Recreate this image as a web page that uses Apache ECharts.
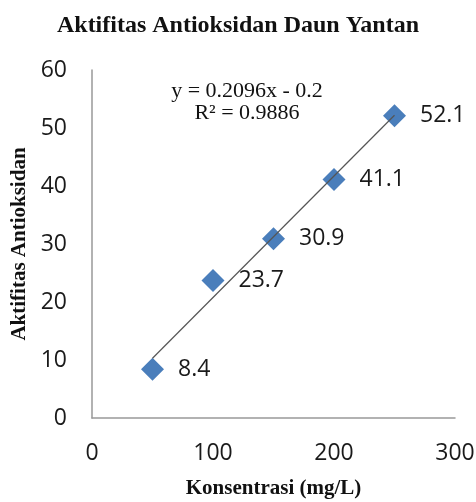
<!DOCTYPE html>
<html>
<head>
<meta charset="utf-8">
<script src="https://cdn.jsdelivr.net/npm/echarts@6/dist/echarts.min.js"></script>
<style>
  html, body { margin: 0; padding: 0; background: #fff; }
  #chart { width: 476px; height: 502px; }
</style>
</head>
<body>
<div id="chart"></div>
<script>
// konsentrasi (mg/L) dan aktifitas antioksidan
var konsentrasi = [50, 100, 150, 200, 250]
var aktifitas = [8.4, 23.7, 30.9, 41.1, 52.1]
// trendline ends
var trendX = [50, 250]
var trendY = [10.3, 52.2]
var equationText = ['y = 0.2096x - 0.2', 'R² = 0.9886']

var points = konsentrasi.map(function (x, i) { return [x, aktifitas[i]] })
var trend = trendX.map(function (x, i) { return [x, trendY[i]] })

var serif = '"Liberation Serif", "Times New Roman", serif'
var sans = '"Open Sans", sans-serif'

var myChart = echarts.init(document.getElementById('chart'))
var option = {
  backgroundColor: '#fff',
  animation: false,
  title: {
    text: 'Aktifitas Antioksidan Daun Yantan',
    left: 'center',
    top: 9,
    textStyle: { fontFamily: serif, fontWeight: 'bold', fontSize: 24, color: '#111' }
  },
  grid: { left: 92, right: 21, top: 70, bottom: 84, containLabel: false, outerBoundsMode: 'none' },
  xAxis: {
    type: 'value',
    min: 0, max: 300, interval: 100,
    name: 'Konsentrasi (mg/L)',
    nameLocation: 'middle',
    nameGap: 60,
    nameTextStyle: { fontFamily: serif, fontWeight: 'bold', fontSize: 21, color: '#111' },
    axisLine: { lineStyle: { color: '#999', width: 1.5 } },
    axisTick: { show: false },
    splitLine: { show: false },
    axisLabel: { fontFamily: sans, fontSize: 23, color: '#1a1a1a', margin: 24 }
  },
  yAxis: {
    type: 'value',
    min: 0, max: 60, interval: 10,
    name: 'Aktifitas Antioksidan',
    nameLocation: 'middle',
    nameRotate: 90,
    nameGap: 55,
    nameTextStyle: { fontFamily: serif, fontWeight: 'bold', fontSize: 21, color: '#111' },
    axisLine: { show: true, lineStyle: { color: '#999', width: 1.5 } },
    axisTick: { show: false },
    splitLine: { show: false },
    axisLabel: { fontFamily: sans, fontSize: 23, color: '#1a1a1a', margin: 25 }
  },
  graphic: equationText.map(function (t, i) {
    return {
      type: 'text',
      x: 247,
      y: 91 + i * 22,
      style: {
        text: t,
        font: '22px ' + serif,
        fill: '#111',
        align: 'center',
        verticalAlign: 'middle'
      }
    }
  }),
  series: [{
    type: 'scatter',
    data: points,
    symbol: 'diamond',
    symbolSize: 23,
    itemStyle: { color: '#4A7EBB', opacity: 1 },
    label: {
      show: true,
      position: 'right',
      distance: 14,
      fontFamily: sans,
      fontSize: 23,
      color: '#1a1a1a',
      formatter: function (p) { return p.value[1] }
    },
    z: 2
  }, {
    type: 'line',
    data: trend,
    symbol: 'none',
    lineStyle: { color: '#555', width: 1.2 },
    z: 3,
    silent: true
  }]
}
myChart.setOption(option)
</script>
</body>
</html>
